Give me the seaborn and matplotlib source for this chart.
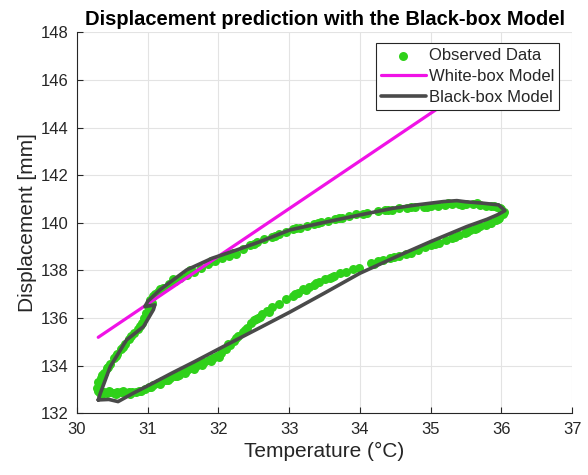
import numpy as np
import pandas as pd
import seaborn as sns
import matplotlib
matplotlib.use("Agg")
import matplotlib.pyplot as plt

obs_temp = [30.28, 30.30, 30.33, 30.38, 30.42, 30.47, 30.52, 30.57, 30.62, 30.68, 30.73, 30.78, 30.84, 30.90, 30.96,
            31.02, 31.08, 31.14, 31.20, 31.26, 31.32, 31.38, 31.44, 31.50, 31.56, 31.62, 31.68, 31.74, 31.80, 31.86,
            31.92, 31.98, 32.04, 32.10, 32.16, 32.22, 32.28, 32.34, 32.40, 32.46, 32.50, 32.56, 32.62, 32.68, 32.75,
            32.85, 32.95, 33.05, 33.12, 33.20, 33.28, 33.35, 33.42, 33.50, 33.57, 33.63, 33.72, 33.80, 33.90, 33.98,
            34.15, 34.25, 34.32, 34.42, 34.55, 34.65, 34.72, 34.82, 34.92, 35.00, 35.12, 35.22, 35.30, 35.40, 35.48,
            35.56, 35.62, 35.70, 35.78, 35.85, 35.92, 35.97, 36.02, 36.04,
            36.00, 35.94, 35.86, 35.78, 35.70, 35.60, 35.50, 35.40, 35.30, 35.20, 35.10, 35.00, 34.90, 34.78, 34.66,
            34.55, 34.45, 34.35, 34.25, 34.10, 33.95, 33.85, 33.75, 33.65, 33.55, 33.45, 33.35, 33.25, 33.15, 33.05,
            32.95, 32.85, 32.75, 32.65, 32.55, 32.45, 32.35, 32.25, 32.15, 32.05, 31.95, 31.85, 31.75, 31.65, 31.55,
            31.45, 31.38, 31.30, 31.22, 31.15, 31.08, 31.03, 31.05, 31.02, 30.98, 30.95, 30.92, 30.86, 30.80, 30.74,
            30.68, 30.62, 30.57, 30.52, 30.47, 30.42, 30.38, 30.34, 30.30,
            30.35, 30.45, 30.55, 30.65, 30.75, 30.87, 31.05, 31.17, 31.29, 31.41, 31.53, 31.65, 31.77, 31.89, 32.01,
            32.13, 32.25, 32.37, 32.53, 32.59, 32.72, 33.08, 33.24, 33.38, 33.60, 34.20, 34.48, 35.06, 35.35, 35.52,
            35.66, 35.82, 35.95, 35.98, 35.90, 35.65, 35.45, 35.25, 34.95, 34.72, 34.40, 34.05, 33.70, 33.40, 33.10,
            32.80, 32.50, 32.20, 31.90, 31.60, 31.35, 31.18, 31.10, 31.06, 31.00, 30.89, 30.77, 30.65, 30.55, 30.44,
            30.36, 30.31]
obs_disp = [133.05, 132.95, 132.85, 132.90, 132.85, 132.90, 132.85, 132.90, 132.88, 132.85, 132.90, 132.88, 132.90, 132.95, 133.00,
            133.10, 133.20, 133.28, 133.35, 133.40, 133.48, 133.55, 133.62, 133.72, 133.80, 133.90, 133.98, 134.05, 134.15, 134.22,
            134.32, 134.42, 134.55, 134.68, 134.85, 135.05, 135.25, 135.42, 135.60, 135.80, 135.90, 136.02, 136.15, 136.30, 136.45,
            136.60, 136.80, 136.92, 137.05, 137.20, 137.30, 137.40, 137.50, 137.62, 137.70, 137.78, 137.88, 137.95, 138.05, 138.10,
            138.30, 138.38, 138.42, 138.52, 138.60, 138.70, 138.75, 138.85, 138.98, 139.05, 139.15, 139.28, 139.38, 139.50, 139.58,
            139.68, 139.75, 139.85, 139.92, 140.00, 140.12, 140.22, 140.35, 140.45,
            140.58, 140.65, 140.70, 140.72, 140.75, 140.78, 140.80, 140.78, 140.80, 140.75, 140.72, 140.70, 140.68, 140.65, 140.62,
            140.60, 140.55, 140.52, 140.48, 140.40, 140.35, 140.30, 140.22, 140.15, 140.08, 140.02, 139.95, 139.88, 139.80, 139.72,
            139.62, 139.52, 139.42, 139.32, 139.18, 139.05, 138.88, 138.70, 138.60, 138.50, 138.38, 138.25, 138.10, 137.95, 137.82,
            137.68, 137.55, 137.42, 137.25, 137.08, 136.92, 136.75, 136.55, 136.38, 136.20, 136.00, 135.80, 135.55, 135.35, 135.12,
            134.92, 134.70, 134.50, 134.30, 134.08, 133.88, 133.70, 133.50, 133.30,
            132.80, 132.95, 132.82, 132.95, 132.82, 132.92, 133.12, 133.22, 133.38, 133.55, 133.70, 133.85, 134.02, 134.20, 134.38,
            134.90, 135.15, 135.50, 135.95, 136.05, 136.25, 137.00, 137.18, 137.45, 137.72, 138.28, 138.58, 139.10, 139.40, 139.60,
            139.80, 139.98, 140.15, 140.62, 140.70, 140.82, 140.76, 140.82, 140.66, 140.66, 140.55, 140.38, 140.20, 140.00, 139.76,
            139.45, 139.12, 138.75, 138.40, 138.00, 137.62, 137.20, 137.00, 136.65, 136.50, 135.65, 135.25, 134.80, 134.40, 133.95,
            133.60, 133.20]

# White-box model (linear)
wb_temp = [30.30, 36.05]
wb_disp = [135.19, 146.70]

# Black-box model (hysteresis loop)
bb_temp = [30.30, 30.45, 30.58, 30.80, 31.03, 31.35, 31.65, 32.10, 32.59, 33.01, 33.50, 34.00, 34.57, 35.00, 35.51,
           35.80, 35.94, 36.05, 35.96, 35.75, 35.50, 35.37, 35.18, 34.80, 34.47, 34.00, 33.50, 33.01, 32.59, 32.25,
           31.91, 31.55, 31.17, 31.00, 30.96, 31.10, 31.08, 30.94, 30.70, 30.47, 30.33, 30.30]
bb_disp = [132.56, 132.58, 132.49, 132.85, 133.20, 133.70, 134.15, 134.85, 135.60, 136.25, 137.05, 137.88, 138.65, 139.21, 139.84,
           140.15, 140.33, 140.51, 140.75, 140.82, 140.88, 140.93, 140.89, 140.75, 140.61, 140.33, 140.02, 139.70, 139.21, 138.85,
           138.51, 138.02, 137.18, 136.70, 136.48, 136.55, 136.35, 135.64, 135.08, 133.96, 132.84, 132.56]

x_ticks = [30, 31, 32, 33, 34, 35, 36, 37]
y_ticks = [132, 134, 136, 138, 140, 142, 144, 146, 148]

sns.set_theme(style="whitegrid")
plt.rcParams['font.family'] = ['Liberation Sans', 'DejaVu Sans']

fig = plt.figure(figsize=(5.88, 4.75), dpi=100)
ax = fig.add_axes([0.131, 0.130, 0.842, 0.802])

obs = pd.DataFrame({"t": obs_temp, "d": obs_disp})
wb = pd.DataFrame({"t": wb_temp, "d": wb_disp})
bb = pd.DataFrame({"t": bb_temp, "d": bb_disp})

green = "#2fd11a"
sns.scatterplot(data=obs, x="t", y="d", ax=ax, color=green, s=42, linewidth=0,
                label="Observed Data", zorder=3)
sns.lineplot(data=wb, x="t", y="d", ax=ax, color="#f012e6", linewidth=2.3, sort=False,
             estimator=None, label="White-box Model", zorder=4)
sns.lineplot(data=bb, x="t", y="d", ax=ax, color="#4a4a4a", linewidth=2.6, sort=False,
             estimator=None, label="Black-box Model", zorder=5)

ax.set_xlim(30, 37)
ax.set_ylim(132, 148)
ax.set_xticks(x_ticks)
ax.set_yticks(y_ticks)
ax.tick_params(labelsize=12, colors="#262626", length=4, width=0.8, pad=6, direction='in')
ax.grid(True, color="#e3e3e3", linewidth=0.8)
ax.set_facecolor("white")
for side in ["top", "right"]:
    ax.spines[side].set_visible(False)
for side in ["left", "bottom"]:
    ax.spines[side].set_color("#262626")
    ax.spines[side].set_linewidth(0.8)
ax.xaxis.set_ticks_position('bottom')
ax.yaxis.set_ticks_position('left')

ax.set_xlabel("Temperature (°C)", fontsize=15, color="#262626", labelpad=4)
ax.set_ylabel("Displacement [mm]", fontsize=15, color="#262626", labelpad=3)
ax.set_title("Displacement prediction with the Black-box Model", fontsize=14.5,
             fontweight="bold", color="black", pad=5)

leg = ax.legend(loc="upper right", bbox_to_anchor=(0.974, 0.972), fancybox=False,
                edgecolor="#262626", framealpha=1, fontsize=12, borderpad=0.3,
                handlelength=2.7, handletextpad=0.2, labelspacing=0.35,
                borderaxespad=0)
leg.get_frame().set_linewidth(0.8)

fig.savefig("out.png", dpi=100)
